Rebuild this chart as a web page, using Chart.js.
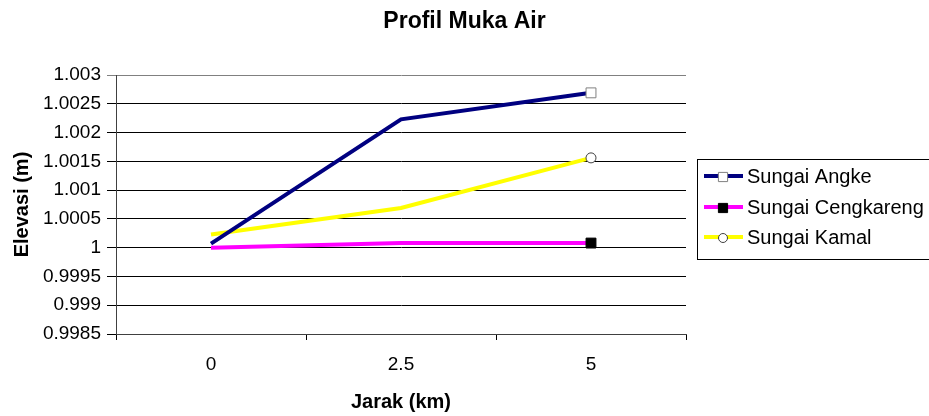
<!DOCTYPE html>
<html lang="id">
<head>
    <meta charset="UTF-8">
    <script src="https://cdn.jsdelivr.net/npm/chart.js@4.4.0/dist/chart.umd.min.js"></script>
    <title>Profil Muka Air</title>
    <style>
        body { margin: 0; background: #fff; }
        canvas { display: block; }
    </style>
</head>
<body>
    <canvas id="myChart" width="929" height="416"></canvas>
    <script>

        // data
        var jarak = ['0', '2.5', '5'];
        var angke = [1.00007, 1.00223, 1.00269];
        var cengkareng = [1.0000, 1.00008, 1.00008];
        var kamal = [1.00023, 1.00069, 1.00156];
        var yTicks = [0.9985, 0.999, 0.9995, 1, 1.0005, 1.001, 1.0015, 1.002, 1.0025, 1.003];

        var fontFamily = '"Liberation Sans", Arial, sans-serif';

        // legend drawn by hand, Excel style: box, line sample with marker
        var excelLegend = {
            id: 'excelLegend',
            afterDraw: function(chart) {
                var ctx = chart.ctx;
                var left = chart.chartArea.right + 11;
                var top = 159;
                ctx.save();
                ctx.strokeStyle = '#000';
                ctx.lineWidth = 1;
                ctx.strokeRect(left + 0.5, top + 0.5, 260, 100);
                var rows = [176, 207, 237];
                chart.data.datasets.forEach(function(ds, i) {
                    var y = rows[i];
                    ctx.strokeStyle = ds.borderColor;
                    ctx.lineWidth = 4;
                    ctx.beginPath();
                    ctx.moveTo(left + 7, y);
                    ctx.lineTo(left + 46, y);
                    ctx.stroke();
                    ctx.fillStyle = ds.pointBackgroundColor;
                    ctx.strokeStyle = ds.pointBorderColor;
                    ctx.lineWidth = 1;
                    Chart.helpers.drawPoint(ctx, {
                        pointStyle: ds.pointStyle,
                        radius: ds.pointStyle == 'circle' ? 4.5 : 6.5,
                        borderWidth: 1,
                        rotation: 0
                    }, left + 26, y + 1);
                    ctx.fillStyle = '#000';
                    ctx.font = '20px ' + fontFamily;
                    ctx.textBaseline = 'middle';
                    ctx.textAlign = 'left';
                    ctx.fillText(ds.label, left + 50, y + 1);
                });
                ctx.restore();
            }
        };

        var ctx = document.getElementById('myChart').getContext('2d');
        var myChart = new Chart(ctx, {
            type: 'line',
            data: {
                labels: jarak,
                datasets: [{
                    label: 'Sungai Angke',
                    data: angke,
                    borderColor: '#000080',
                    borderWidth: 4,
                    pointStyle: 'rect',
                    pointRadius: [0, 0, 7],
                    pointBackgroundColor: '#ffffff',
                    pointBorderColor: '#808080',
                    pointBorderWidth: 1
                }, {
                    label: 'Sungai Cengkareng',
                    data: cengkareng,
                    borderColor: '#ff00ff',
                    borderWidth: 4,
                    pointStyle: 'rect',
                    pointRadius: [0, 0, 7],
                    pointBackgroundColor: '#000000',
                    pointBorderColor: '#000000',
                    pointBorderWidth: 1
                }, {
                    label: 'Sungai Kamal',
                    data: kamal,
                    borderColor: '#ffff00',
                    borderWidth: 4,
                    pointStyle: 'circle',
                    pointRadius: [0, 0, 5],
                    pointBackgroundColor: '#ffffff',
                    pointBorderColor: '#404040',
                    pointBorderWidth: 1
                }]
            },
            options: {
                responsive: false,
                animation: false,
                events: [],
                layout: { padding: 0 },
                plugins: {
                    legend: { display: false },
                    tooltip: { enabled: false },
                    title: {
                        display: true,
                        text: 'Profil Muka Air',
                        color: '#000',
                        font: { family: fontFamily, size: 23, weight: 'bold' },
                        padding: { top: 8, bottom: 39.4 }
                    }
                },
                scales: {
                    x: {
                        offset: true,
                        grid: {
                            offset: true,
                            drawOnChartArea: false,
                            drawTicks: true,
                            tickLength: 6,
                            color: '#000'
                        },
                        border: { color: '#404040', width: 1 },
                        ticks: {
                            color: '#000',
                            padding: 13,
                            font: { family: fontFamily, size: 19 }
                        },
                        title: {
                            display: true,
                            text: 'Jarak (km)',
                            color: '#000',
                            font: { family: fontFamily, size: 20, weight: 'bold' },
                            padding: { top: 0, bottom: 2 }
                        },
                        afterFit: function(scale) { scale.height = 82; }
                    },
                    y: {
                        min: 0.9985,
                        max: 1.003,
                        afterBuildTicks: function(scale) {
                            scale.ticks = yTicks.map(function(v) { return { value: v }; });
                        },
                        grid: {
                            color: function(c) {
                                return c.tick && c.tick.value == 1.003 ? '#808080' : '#000';
                            },
                            lineWidth: 1,
                            tickLength: 9
                        },
                        border: { color: '#404040', width: 1 },
                        ticks: {
                            color: '#000',
                            padding: 6,
                            font: { family: fontFamily, size: 19 },
                            callback: function(v) { return String(v); }
                        },
                        title: {
                            display: true,
                            text: 'Elevasi (m)',
                            color: '#000',
                            font: { family: fontFamily, size: 20, weight: 'bold' },
                            padding: { top: 10, bottom: 0 }
                        },
                        afterFit: function(scale) { scale.width = 116; }
                    },
                    // empty axis on the right, only keeps room for the legend
                    yRoom: {
                        position: 'right',
                        display: true,
                        grid: { display: false },
                        border: { display: false },
                        ticks: { display: false },
                        afterFit: function(scale) { scale.width = 243; }
                    }
                }
            },
            plugins: [excelLegend]
        });
    </script>
</body>
</html>
